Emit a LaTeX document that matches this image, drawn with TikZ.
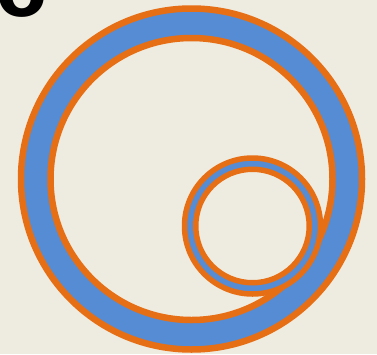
\documentclass[tikz,border=0pt]{standalone}
\usepackage{fontspec}
\setmainfont{Liberation Sans}
\definecolor{bg}{RGB}{238,235,224}
\definecolor{ringblue}{RGB}{86,140,212}
\definecolor{ringorange}{RGB}{230,110,20}
\tikzset{
  ringfill/.style={fill=ringblue, even odd rule},
  bigedge/.style={draw=ringorange, line width=6.5pt},
  smalledge/.style={draw=ringorange, line width=5.5pt},
}
\begin{document}
\begin{tikzpicture}[x=1pt,y=-1pt]
\fill[bg] (0,0) rectangle (377,354);
\useasboundingbox (0,0) rectangle (377,354);
% big annulus
\coordinate (bc) at (191.5,179);
\path[ringfill] (bc) circle[radius=170.5] (bc) circle[radius=141];
\path[bigedge] (bc) circle[radius=170.5];
\path[bigedge] (bc) circle[radius=141];
% small annulus
\coordinate (sc) at (252.5,226);
\path[ringfill] (sc) circle[radius=68] (sc) circle[radius=56.75];
\path[smalledge] (sc) circle[radius=68];
\path[smalledge] (sc) circle[radius=56.75];
% panel label
\node[anchor=base west, inner sep=0pt, font=\fontsize{92}{92}\selectfont\bfseries] (lbl) at (-5,16) {c};
\end{tikzpicture}
\end{document}
